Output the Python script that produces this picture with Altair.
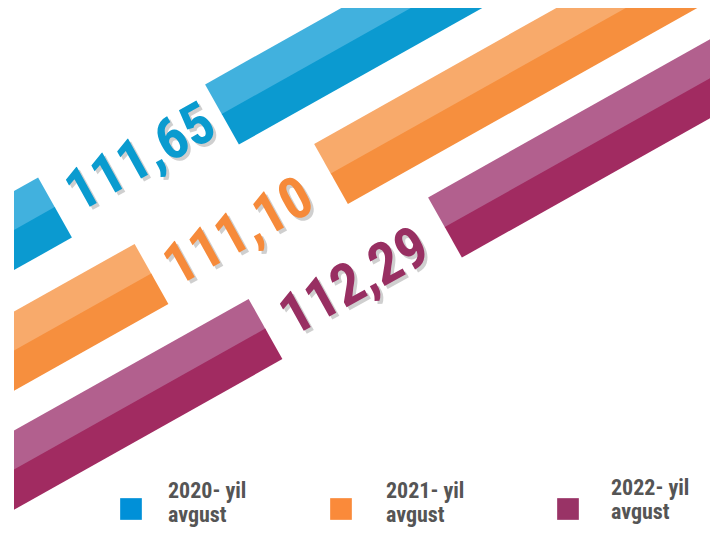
import math
import altair as alt
import pandas as pd

# ---- data ----
values = [111.65, 111.10, 112.29]
labels = ["111,65", "111,10", "112,29"]
years = ["2020- yil", "2021- yil", "2022- yil"]
months = ["avgust", "avgust", "avgust"]

# ---- styles ----
light = ["#41B1DE", "#F8AA6B", "#B2608E"]
dark = ["#0B9AD0", "#F68F3E", "#A12B61"]
text_col = ["#0A9BCF", "#F68A3A", "#982F62"]
legend_col = ["#0090D8", "#FA8A3A", "#993366"]

# ---- layout (image pixel coordinates) ----
gap_left_end = [(55, 207.5), (151.5, 274), (265.5, 329)]
gap_right_start = [(222, 114.5), (331, 174), (445, 227.5)]
label_pos = [(141, 159), (239, 233), (355, 283)]
legend_sq_x = [131, 341, 568]
legend_sq_y = [509, 509, 509]
legend_text_x = [168, 386, 611]
legend_text_y = [491, 491, 488]

ANG = math.radians(29.3)
THICK = 68
dx, dy = math.cos(ANG), -math.sin(ANG)        # along band (up-right)
ux, uy = -math.sin(ANG), -math.cos(ANG)       # perpendicular (up-left)

rows = []
seg = 0
for i in range(3):
    lx, ly = gap_left_end[i]
    rx, ry = gap_right_start[i]
    segments = [((lx - 400 * dx, ly - 400 * dy), (lx, ly)),
                ((rx, ry), (rx + 700 * dx, ry + 700 * dy))]
    for (a, b) in segments:
        for tone, col, sgn in (("light", light[i], 1), ("dark", dark[i], -1)):
            off = sgn * THICK / 4
            for k, (px, py) in enumerate((a, b)):
                rows.append({"seg": f"{seg}-{tone}", "order": k,
                             "x": px + ux * off, "y": py + uy * off,
                             "color": col})
        seg += 1
bands = pd.DataFrame(rows)

lab = pd.DataFrame({"x": [p[0] for p in label_pos],
                    "y": [p[1] for p in label_pos],
                    "text": labels, "value": values, "color": text_col})
shadow = lab.assign(x=lab.x + 3, y=lab.y + 3)

leg = pd.DataFrame({"x": legend_sq_x, "y": legend_sq_y, "color": legend_col})
legt = pd.DataFrame({"x": legend_text_x, "y": legend_text_y,
                     "text": [f"{a}\n{b}" for a, b in zip(years, months)]})

X = alt.X("x:Q", scale=alt.Scale(domain=[14, 710], nice=False, zero=False), axis=None)
Y = alt.Y("y:Q", scale=alt.Scale(domain=[529, 8], nice=False, zero=False), axis=None)

band_layer = alt.Chart(bands).mark_line(strokeWidth=35, strokeCap="butt", clip=True).encode(
    x=X, y=Y, detail="seg:N", order="order:Q",
    color=alt.Color("color:N", scale=None))

FONT = "Roboto Condensed, Roboto, Liberation Sans, sans-serif"
shadow_layer = alt.Chart(shadow).mark_text(
    font=FONT, fontSize=58, fontWeight="bold", angle=331, align="center",
    baseline="middle", color="#777777", opacity=0.35).encode(x=X, y=Y, text="text:N")
label_layer = alt.Chart(lab).mark_text(
    font=FONT, fontSize=58, fontWeight="bold", angle=331, align="center",
    baseline="middle").encode(x=X, y=Y, text="text:N",
                              color=alt.Color("color:N", scale=None))

sq_layer = alt.Chart(leg).mark_square(size=470, opacity=1).encode(
    x=X, y=Y, color=alt.Color("color:N", scale=None))
legt_layer = alt.Chart(legt).mark_text(
    font=FONT, fontSize=22, fontWeight="bold", align="left", baseline="middle",
    lineBreak="\n", lineHeight=24, color="#555555").encode(x=X, y=Y, text="text:N")

chart = alt.layer(band_layer, shadow_layer, label_layer, sq_layer, legt_layer).properties(
    width=696, height=521,
    padding={"left": 6, "top": 0, "right": 0, "bottom": 0},
    autosize=alt.AutoSizeParams(type="none"),
    background="white",
).configure_view(stroke=None)

chart.save("out.html", embed_options={"renderer": "svg", "actions": False})
